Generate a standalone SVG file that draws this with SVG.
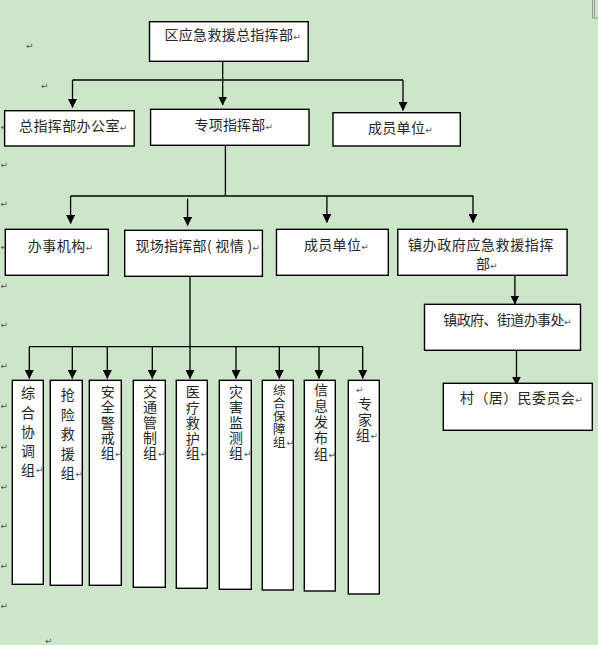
<svg xmlns="http://www.w3.org/2000/svg" width="598" height="645" viewBox="0 0 598 645">
<defs>
<style>
.box{fill:#ffffff;stroke:#000000;stroke-width:1.4}
.t{font-family:"Noto Sans CJK SC","Noto Sans CJK TC",sans-serif;font-size:14px;fill:#262626}
.v{font-family:"Noto Sans CJK SC","Noto Sans CJK TC",sans-serif;font-size:14px;fill:#262626;text-anchor:middle}
.pm{font-family:"DejaVu Sans",sans-serif;font-size:9px;fill:#555555}
.c{stroke:#000000;stroke-width:1.3;fill:none}
.ca{stroke:#000000;stroke-width:1.3;fill:none;marker-end:url(#ah)}
</style>
<marker id="ah" markerWidth="9" markerHeight="9" refX="8.5" refY="4.5" orient="auto" markerUnits="userSpaceOnUse">
<path d="M0,0 L9,4.5 L0,9 Z" fill="#000000"/>
</marker>
</defs>
<rect x="0" y="0" width="598" height="645" fill="#cde6c9"/>
<path d="M592.5,0 V18 M594.5,0 V17 M592.5,18 H598" stroke="#7a8a7a" stroke-width="0.8" fill="none"/>

<g id="margin-marks" class="pm">
<text x="26" y="49">↵</text>
<text x="41" y="89">↵</text>
<text x="0.5" y="130">↵</text>
<text x="0.5" y="168">↵</text>
<text x="0.5" y="207">↵</text>
<text x="0.5" y="250">↵</text>
<text x="0.5" y="289">↵</text>
<text x="0.5" y="328">↵</text>
<text x="0.5" y="369">↵</text>
<text x="0.5" y="409">↵</text>
<text x="0.5" y="450">↵</text>
<text x="0.5" y="490">↵</text>
<text x="0.5" y="529">↵</text>
<text x="0.5" y="569">↵</text>
<text x="0.5" y="609">↵</text>
<text x="45" y="644">↵</text>
</g>

<g id="connectors">
<path class="ca" d="M222.7,61.5 V105"/>
<path class="c" d="M72.5,80 H403"/>
<path class="ca" d="M72.5,80 V107.5"/>
<path class="ca" d="M403,80 V110.5"/>
<path class="c" d="M225.4,146 V196"/>
<path class="c" d="M70.6,196 H473.3"/>
<path class="ca" d="M70.6,196 V223.5"/>
<path class="ca" d="M187.6,198.5 V225.5"/>
<path class="ca" d="M326.9,196 V222.5"/>
<path class="ca" d="M473,196 V222.5"/>
<path class="ca" d="M514.9,275.3 V304"/>
<path class="ca" d="M516.5,350.3 V385"/>
<path class="c" d="M190,276.3 V346.7"/>
<path class="c" d="M29.3,346.7 H362.7"/>
<path class="ca" d="M29.3,346.7 V378.5"/>
<path class="ca" d="M72.3,346.7 V378.5"/>
<path class="ca" d="M107.3,346.7 V378.5"/>
<path class="ca" d="M152.3,346.7 V378.5"/>
<path class="ca" d="M190,346.7 V378.5"/>
<path class="ca" d="M236,346.7 V378.5"/>
<path class="ca" d="M279.3,346.7 V378.5"/>
<path class="ca" d="M319,346.7 V378.5"/>
<path class="ca" d="M362.7,346.7 V378.5"/>
</g>

<g id="n-top">
<rect class="box" x="149.5" y="21.7" width="158.7" height="39.6"/>
<text class="t" x="164.5" y="40" letter-spacing="0.3">区应急救援总指挥部<tspan class="pm">↵</tspan></text>
</g>
<g id="n-office">
<rect class="box" x="4.6" y="110.7" width="129.6" height="35.3"/>
<text class="t" x="19" y="131" letter-spacing="0.4">总指挥部办公室<tspan class="pm">↵</tspan></text>
</g>
<g id="n-special">
<rect class="box" x="150.6" y="109.3" width="158.4" height="36"/>
<text class="t" x="194.5" y="130" letter-spacing="0.2">专项指挥部<tspan class="pm">↵</tspan></text>
</g>
<g id="n-members1">
<rect class="box" x="333" y="112.7" width="127.3" height="33.3"/>
<text class="t" x="368" y="132.5" letter-spacing="0.3">成员单位<tspan class="pm">↵</tspan></text>
</g>

<g id="n-office2">
<rect class="box" x="5.3" y="229.3" width="103" height="46"/>
<text class="t" x="27.8" y="251" letter-spacing="0.5">办事机构<tspan class="pm">↵</tspan></text>
</g>
<g id="n-site">
<rect class="box" x="124.7" y="230.3" width="137.7" height="46"/>
<text class="t" x="135.4" y="251" letter-spacing="0.3">现场指挥部( 视情 )<tspan class="pm">↵</tspan></text>
</g>
<g id="n-members2">
<rect class="box" x="276.5" y="229.3" width="111.8" height="46"/>
<text class="t" x="304" y="250" letter-spacing="0.3">成员单位<tspan class="pm">↵</tspan></text>
</g>
<g id="n-town">
<rect class="box" x="397.8" y="229.3" width="169.3" height="46"/>
<text class="t" x="408" y="250" letter-spacing="0.6">镇办政府应急救援指挥</text>
<text class="t" x="476" y="269">部<tspan class="pm">↵</tspan></text>
</g>
<g id="n-street">
<rect class="box" x="424.5" y="304.3" width="156" height="46"/>
<text class="t" x="443.3" y="325" letter-spacing="-0.6">镇政府、街道办事处<tspan class="pm">↵</tspan></text>
</g>
<g id="n-village">
<rect class="box" x="443.3" y="383.3" width="149" height="47"/>
<text class="t" x="460" y="403" letter-spacing="0.4">村（居）民委员会<tspan class="pm">↵</tspan></text>
</g>

<g id="g1">
<rect class="box" x="12.3" y="380.3" width="31" height="204"/>
<text class="v"><tspan x="28" y="398.3">综</tspan><tspan x="28" y="417.5">合</tspan><tspan x="28" y="436.7">协</tspan><tspan x="28" y="455.9">调</tspan><tspan x="28" y="475">组</tspan></text>
<text class="pm" x="36" y="473">↵</text>
</g>
<g id="g2">
<rect class="box" x="50.3" y="380.3" width="32" height="205"/>
<text class="v"><tspan x="67.7" y="400">抢</tspan><tspan x="67.7" y="419.6">险</tspan><tspan x="67.7" y="439.2">救</tspan><tspan x="67.7" y="458.8">援</tspan><tspan x="67.7" y="478.4">组</tspan></text>
<text class="pm" x="75.5" y="477">↵</text>
</g>
<g id="g3">
<rect class="box" x="89.3" y="380.3" width="32" height="205"/>
<text class="v"><tspan x="107.7" y="396.7">安</tspan><tspan x="107.7" y="412.1">全</tspan><tspan x="107.7" y="427.5">警</tspan><tspan x="107.7" y="442.9">戒</tspan><tspan x="107.7" y="458.3">组</tspan></text>
<text class="pm" x="115" y="457">↵</text>
</g>
<g id="g4">
<rect class="box" x="133.3" y="380.3" width="32" height="207"/>
<text class="v"><tspan x="150" y="396.7">交</tspan><tspan x="150" y="412.1">通</tspan><tspan x="150" y="427.5">管</tspan><tspan x="150" y="442.9">制</tspan><tspan x="150" y="458.3">组</tspan></text>
<text class="pm" x="158" y="457">↵</text>
</g>
<g id="g5">
<rect class="box" x="176.3" y="380.3" width="31" height="208"/>
<text class="v"><tspan x="192.7" y="396.7">医</tspan><tspan x="192.7" y="412.5">疗</tspan><tspan x="192.7" y="428.3">救</tspan><tspan x="192.7" y="444.1">护</tspan><tspan x="192.7" y="458.3">组</tspan></text>
<text class="pm" x="200.5" y="457">↵</text>
</g>
<g id="g6">
<rect class="box" x="219.3" y="380.3" width="32" height="209"/>
<text class="v"><tspan x="236" y="396.7">灾</tspan><tspan x="236" y="412.1">害</tspan><tspan x="236" y="427.5">监</tspan><tspan x="236" y="442.9">测</tspan><tspan x="236" y="458.3">组</tspan></text>
<text class="pm" x="244" y="457">↵</text>
</g>
<g id="g7">
<rect class="box" x="262.3" y="380.3" width="31" height="209.7"/>
<text class="v" style="font-size:12.5px"><tspan x="279.3" y="394.5">综</tspan><tspan x="279.3" y="407.7">合</tspan><tspan x="279.3" y="420.9">保</tspan><tspan x="279.3" y="434.1">障</tspan><tspan x="279.3" y="447.3">组</tspan></text>
<text class="pm" x="286.5" y="446">↵</text>
</g>
<g id="g8">
<rect class="box" x="304.3" y="380.3" width="31" height="210.7"/>
<text class="v"><tspan x="321" y="395">信</tspan><tspan x="321" y="411">息</tspan><tspan x="321" y="427">发</tspan><tspan x="321" y="443">布</tspan><tspan x="321" y="459">组</tspan></text>
<text class="pm" x="328.5" y="458">↵</text>
</g>
<g id="g9">
<rect class="box" x="348.3" y="380.3" width="31" height="213.7"/>
<text class="pm" x="356" y="393">↵</text>
<text class="v"><tspan x="365" y="409">专</tspan><tspan x="365" y="425">家</tspan><tspan x="363" y="440">组</tspan></text>
<text class="pm" x="370.5" y="439">↵</text>
</g>
</svg>
